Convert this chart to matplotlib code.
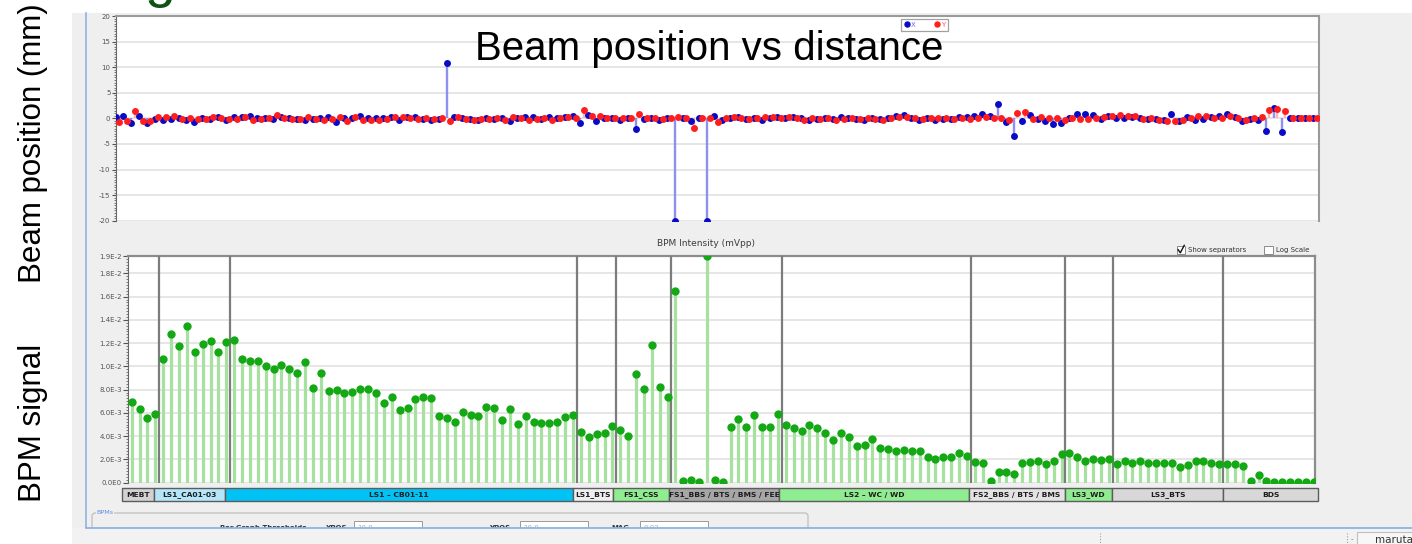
import numpy as np
import matplotlib
matplotlib.use("Agg")
import matplotlib.pyplot as plt
from matplotlib.patches import Rectangle, FancyBboxPatch
from matplotlib.lines import Line2D
from matplotlib.ticker import MultipleLocator, FixedLocator

# ---------------------------------------------------------------- data
# Beam position per BPM (mm); the first two readings sit before BPM 0
x_mm = [0.2, 0.5, -1.0, 0.5, -1.0, -0.1, -0.3, -0.1, 0.1, -0.4, -0.8, 0.0,
        -0.1, 0.3, -0.3, 0.3, 0.3, 0.4, 0.0, 0.0, -0.1, 0.3,
        0.0, -0.1, -0.4, -0.1, 0.0, 0.2, -0.8, 0.0, 0.0, 0.5,
        0.0, 0.0, 0.0, 0.2, -0.3, 0.3, 0.3, -0.1, -0.4, -0.2,
        10.9, 0.3, 0.0, -0.2, -0.4, 0.0, -0.2, 0.1, -0.5, 0.0,
        0.2, 0.2, -0.1, 0.2, 0.0, 0.3, 0.5, -0.9, 0.6, -0.5,
        0.0, 0.0, -0.3, 0.0, -2.1, -0.2, 0.0, -0.3, 0.1, -20.0,
        0.0, -0.6, 0.0, -20.0, 0.5, -0.3, 0.0, 0.2, -0.1, 0.0,
        -0.3, 0.0, 0.2, 0.0, 0.2, 0.0, -0.3, -0.1, 0.1, -0.2,
        0.2, 0.0, -0.1, -0.4, 0.0, -0.2, 0.1, 0.5, 0.6, 0.0,
        -0.4, 0.0, -0.4, -0.1, -0.1, 0.2, 0.3, 0.5, 0.8, 0.5,
        2.8, -0.8, -3.5, -0.6, 0.6, -0.1, -0.6, -1.1, -1.0, 0.0,
        0.8, 0.8, 0.6, -0.1, 0.5, 0.0, 0.0, 0.3, 0.0, -0.2,
        -0.2, -0.3, 0.8, -0.6, 0.3, -0.3, -0.2, 0.3, 0.5, 0.8,
        0.3, -0.5, -0.2, -0.3, -2.4, 2.1, -2.7, 0.0, 0.0, 0.0, 0.0]
y_mm = [-0.8, -0.5, 1.4, -0.5, -0.5, 0.3, 0.3, 0.5, -0.2, 0.0, -0.2, -0.2,
        0.2, 0.0, -0.2, -0.2, 0.3, -0.4, -0.2, 0.0, 0.7, 0.0,
        -0.2, -0.2, 0.3, -0.2, -0.3, -0.2, 0.2, -0.5, 0.2, -0.3,
        -0.3, -0.3, -0.2, 0.3, 0.2, 0.0, -0.2, 0.0, -0.1, 0.0,
        -0.6, 0.3, -0.2, -0.3, -0.2, -0.1, 0.1, -0.3, 0.2, 0.0,
        -0.3, -0.1, 0.0, -0.3, 0.0, 0.2, 0.0, 1.7, 0.4, 0.4,
        0.0, 0.0, 0.0, 0.0, 0.9, 0.0, 0.0, -0.2, 0.0, 0.2,
        0.0, -1.8, 0.0, 0.0, -0.8, 0.0, 0.3, 0.0, -0.2, 0.0,
        0.2, 0.2, 0.0, 0.2, 0.0, -0.3, 0.0, -0.2, 0.0, -0.3,
        -0.1, 0.0, -0.2, 0.0, -0.1, -0.3, 0.0, 0.2, 0.2, 0.0,
        -0.2, 0.0, 0.0, 0.0, -0.1, 0.0, -0.2, 0.1, 0.2, 0.0,
        0.1, -0.3, 1.0, 1.2, -0.1, 0.2, 0.0, 0.0, -0.3, 0.0,
        -0.2, -0.2, 0.0, 0.2, 0.4, 0.6, 0.4, 0.4, -0.1, 0.0,
        -0.3, -0.6, -0.5, -0.3, 0.0, 0.4, 0.5, 0.0, 0.0, 0.4,
        0.0, -0.3, 0.0, 0.2, 1.6, 1.8, 1.4, 0.0, 0.0, 0.0, 0.0]
pos_first_index = -2

# BPM intensity, in units of 1E-3 mVpp
intensity = [6.91, 6.36, 5.59, 5.93,
             10.66, 12.81, 11.73, 13.45, 11.21, 11.90, 12.21, 11.21, 12.07,
             12.27, 10.61, 10.44, 10.44, 10.01, 9.78, 10.12, 9.78, 9.41, 10.35,
             8.17, 9.41, 7.88, 8.00, 7.74, 7.82, 8.08, 8.08, 7.68, 6.85, 7.37,
             6.25, 6.39, 7.20, 7.39, 7.31, 5.74, 5.59, 5.25, 6.08, 5.79, 5.77,
             6.51, 6.39, 5.39, 6.34, 5.07, 5.76, 5.19, 5.10, 5.13, 5.19, 5.68,
             5.79,
             4.39, 3.93, 4.16, 4.27, 4.87,
             4.53, 3.99, 9.32, 8.06, 11.87, 8.23, 7.39,
             16.48, 0.15, 0.20, 0.09, 19.50, 0.20, 0.10, 4.76, 5.48, 4.76, 5.79,
             4.82, 4.79, 5.91,
             4.93, 4.70, 4.42, 4.96, 4.70, 4.30, 3.64, 4.25, 3.93, 3.16, 3.21,
             3.73, 2.98, 2.92, 2.72, 2.81, 2.72, 2.75, 2.21, 2.01, 2.18, 2.18,
             2.55, 2.27,
             1.78, 1.72, 0.12, 0.95, 0.95, 0.77, 1.69, 1.75, 1.89, 1.61, 1.84,
             2.47,
             2.55, 2.24, 1.87, 2.01, 1.93, 2.01,
             1.61, 1.89, 1.67, 1.84, 1.72, 1.67, 1.67, 1.72, 1.35, 1.52, 1.84,
             1.84, 1.69, 1.63,
             1.58, 1.58, 1.44, 0.15, 0.66, 0.12, 0.05, 0.05, 0.05, 0.05, 0.05,
             0.05]

sections = ["MEBT", "LS1_CA01-03", "LS1 \u2013 CB01-11", "LS1_BTS", "FS1_CSS",
            "FS1_BBS / BTS / BMS / FEE", "LS2 \u2013 WC / WD",
            "FS2_BBS / BTS / BMS", "LS3_WD", "LS3_BTS", "BDS"]
section_counts = [4, 9, 44, 5, 7, 14, 24, 12, 6, 14, 12]
section_colors = ["#d2d2d2", "#b4e6fa", "#00c2f4", "#efefef", "#90ec90",
                  "#a6a6a6", "#90ec90", "#e3e3e3", "#90ec90", "#d8d8d8",
                  "#d8d8d8"]

pos_ticks = [-20, -15, -10, -5, 0, 5, 10, 15, 20]
pos_tick_labels = ["-20", "-15", "-10", "-5", "0", "5", "10", "15", "20"]
int_top = 19.49
int_ticks = [0, 2, 4, 6, 8, 10, 12, 14, 16, 18, int_top]
int_tick_labels = ["0.0E0", "2.0E-3", "4.0E-3", "6.0E-3", "8.0E-3", "1.0E-2",
                   "1.2E-2", "1.4E-2", "1.6E-2", "1.8E-2", "1.9E-2"]

# ---------------------------------------------------------------- layout
W, H, DPI = 1412, 544, 100
BPM0_PX, BPM_STEP = 131.7, 7.88          # pixel of BPM 0 and pixel spacing
UI_FONT = "DejaVu Sans"
SLIDE_FONT = "Liberation Sans"


def rect(x0, y0, x1, y1):
    return [x0 / W, 1 - y1 / H, (x1 - x0) / W, (y1 - y0) / H]


def fpos(x, y):
    return (x / W, 1 - y / H)


def px_to_index(p):
    return (p - BPM0_PX) / BPM_STEP


fig = plt.figure(figsize=(W / DPI, H / DPI), dpi=DPI, facecolor="white")

# background canvas in pixel coordinates
bg = fig.add_axes([0, 0, 1, 1], zorder=-5)
bg.set_xlim(0, W)
bg.set_ylim(H, 0)
bg.axis("off")
bg.add_patch(Rectangle((72, 13), W - 72, H - 13, fc="#efefef", ec="none"))
bg.plot([86, 86], [13, 528], color="#8db4e3", lw=1.2)

# ---------------------------------------------------------------- position chart
ax_top = fig.add_axes(rect(116, 16, 1319, 220.7))
ax_top.set_facecolor("white")
idx_pos = np.arange(len(x_mm)) + pos_first_index
xb = idx_pos - 0.05
xr = idx_pos + 0.38
ax_top.vlines(xb, 0, x_mm, color="#8f8ff0", lw=1.7, zorder=2)
ax_top.vlines(xr, 0, y_mm, color="#ffb4b4", lw=1.7, zorder=2)
ax_top.plot(xb, x_mm, "o", color="#0a0ac6", ms=5.0, mec="none", zorder=3)
ax_top.plot(xr, y_mm, "o", color="#ff1e1e", ms=5.0, mec="none", zorder=4)
ax_top.set_xlim(px_to_index(116), px_to_index(1319))
ax_top.set_ylim(-20, 20)
ax_top.set_xticks([])
ax_top.yaxis.set_major_locator(FixedLocator(pos_ticks))
ax_top.set_yticklabels(pos_tick_labels)
ax_top.yaxis.set_minor_locator(MultipleLocator(0.5))
ax_top.tick_params(axis="y", which="major", length=3, width=0.8, pad=1,
                   labelsize=5, labelcolor="#555555", color="#555555")
ax_top.tick_params(axis="y", which="minor", length=1.5, width=0.6,
                   color="#666666")
ax_top.yaxis.grid(True, color="#e4e4e4", lw=1.3)
ax_top.set_axisbelow(True)
for s in ("top", "right"):
    ax_top.spines[s].set_color("#9a9a9a")
    ax_top.spines[s].set_linewidth(1.5)
ax_top.spines["left"].set_color("#666666")
ax_top.spines["left"].set_linewidth(0.8)
ax_top.spines["bottom"].set_visible(False)
for t in ax_top.get_yticklabels():
    t.set_fontfamily(UI_FONT)

handles = [Line2D([], [], marker="o", ls="none", color="#0a0ac6", ms=3.6,
                  label="X"),
           Line2D([], [], marker="o", ls="none", color="#ff1e1e", ms=3.6,
                  label="Y")]
leg = fig.legend(handles=handles, loc="upper left",
                 bbox_to_anchor=fpos(901, 19), ncol=2, fontsize=5,
                 frameon=True, fancybox=False, edgecolor="#8a8a8a",
                 borderpad=0.4, handletextpad=0.15, columnspacing=2.6,
                 handlelength=0.9, borderaxespad=0)
leg.get_frame().set_linewidth(0.9)
leg.get_texts()[0].set_color("#6a6af0")
leg.get_texts()[1].set_color("#ff5050")
leg.set_zorder(6)

# ---------------------------------------------------------------- intensity chart
ax_int = fig.add_axes(rect(128, 256, 1315, 482.7))
ax_int.set_facecolor("white")
idx = np.arange(len(intensity))
ax_int.vlines(idx, 0, intensity, color="#a7e1a0", lw=2.3, zorder=2)
ax_int.plot(idx, intensity, "o", color="#14a914", ms=6.0, mec="none", zorder=4)
cum = np.cumsum(section_counts)
for b in cum[:-1]:
    ax_int.axvline(b - 0.5, color="#7c7c7c", lw=1.6, zorder=3)
ax_int.set_xlim(px_to_index(128), px_to_index(1315))
ax_int.set_ylim(0, int_top)
ax_int.set_xticks([])
ax_int.yaxis.set_major_locator(FixedLocator(int_ticks))
ax_int.set_yticklabels(int_tick_labels)
ax_int.yaxis.set_minor_locator(MultipleLocator(0.25))
ax_int.tick_params(axis="y", which="major", length=3.5, width=0.8, pad=1,
                   labelsize=5, labelcolor="#555555", color="#555555")
ax_int.tick_params(axis="y", which="minor", length=1.5, width=0.6,
                   color="#666666")
ax_int.yaxis.grid(True, color="#e4e4e4", lw=1.3)
ax_int.set_axisbelow(True)
for s in ("top", "right"):
    ax_int.spines[s].set_color("#8c8c8c")
    ax_int.spines[s].set_linewidth(1.6)
ax_int.spines["left"].set_color("#666666")
ax_int.spines["left"].set_linewidth(0.8)
ax_int.spines["bottom"].set_visible(False)
for t in ax_int.get_yticklabels():
    t.set_fontfamily(UI_FONT)

# section bar
ax_bar = fig.add_axes(rect(122, 488, 1318, 501))
ax_bar.set_xlim(0, cum[-1])
ax_bar.set_ylim(0, 1)
ax_bar.axis("off")
starts = np.concatenate([[0], cum[:-1]])
for name, start, cnt, col in zip(sections, starts, section_counts,
                                 section_colors):
    ax_bar.barh(0.5, cnt, left=start, height=1, color=col,
                edgecolor="#5c5c5c", lw=1.0, clip_on=False)
    ax_bar.text(start + cnt / 2, 0.48, name, ha="center", va="center",
                fontsize=5.4, fontweight="bold", color="#1c1c1c",
                family=UI_FONT)

# ---------------------------------------------------------------- panel widgets
bg.text(706, 243, "BPM Intensity (mVpp)", ha="center", va="center",
        fontsize=6.5, color="#3c3c3c", family=UI_FONT)
bg.add_patch(Rectangle((1176.5, 245.5), 8.5, 8.5, fc="white", ec="#8a8a8a",
                       lw=0.7))
bg.plot([1178, 1180.3, 1184.3], [249.5, 252.8, 245.2], color="#111111",
        lw=1.0, solid_capstyle="round")
bg.text(1188.5, 250, "Show separators", ha="left", va="center", fontsize=5,
        color="#333333", family=UI_FONT)
bg.add_patch(Rectangle((1264, 245.5), 8.5, 8.5, fc="white", ec="#8a8a8a",
                       lw=0.7))
bg.text(1275.5, 250, "Log Scale", ha="left", va="center", fontsize=5,
        color="#333333", family=UI_FONT)

# BPMs group box (lower part is hidden below the panel edge)
bg.add_patch(FancyBboxPatch((92, 513), 716, 40,
                            boxstyle="round,pad=0,rounding_size=3",
                            fc="none", ec="#b8b8b8", lw=0.8))
bg.text(96, 513, "BPMs", ha="left", va="center", fontsize=4.6,
        color="#5f8fe8", family=UI_FONT,
        bbox=dict(fc="#efefef", ec="none", pad=0.3))
bg.text(220, 528, "Bar Graph Thresholds", ha="left", va="center",
        fontsize=5, fontweight="bold", color="#333333", family=UI_FONT)
for label, lx, fx0, fx1, val in [("XPOS", 326, 354, 422, "10.0"),
                                 ("YPOS", 489, 520, 588, "10.0"),
                                 ("MAG", 611, 640, 708, "0.02")]:
    bg.text(lx, 528, label, ha="left", va="center", fontsize=5,
            fontweight="bold", color="#333333", family=UI_FONT)
    bg.add_patch(Rectangle((fx0, 521), fx1 - fx0, 14, fc="white",
                           ec="#9a9a9a", lw=0.7))
    bg.text(fx0 + 3, 528.5, val, ha="left", va="center", fontsize=5,
            color="#aaaaaa", family=UI_FONT)
bg.add_patch(Rectangle((72, 528.4), W - 72, 20, fc="#f2f2f2", ec="none",
                       zorder=5))
bg.plot([86, W], [528, 528], color="#8db4e3", lw=1.3, zorder=6)
for xs in (1100, 1347):
    bg.plot([xs, xs], [533, 544], color="#a0a0a0", lw=0.8, ls=(0, (1, 1.5)),
            zorder=6)
bg.text(1352, 539, "-", ha="center", va="center", fontsize=5,
        color="#666666", zorder=6)
bg.add_patch(Rectangle((1357, 532), 80, 20, fc="#f7f7f7", ec="#c0c0c0",
                       lw=0.8, zorder=6))
bg.text(1375, 540, "maruta", ha="left", va="center", fontsize=7.5,
        color="#333333", family=UI_FONT, zorder=7)

# ---------------------------------------------------------------- slide text
fig.text(*fpos(709, 60), "Beam position vs distance", ha="center",
         va="baseline", fontsize=29, family=SLIDE_FONT, color="black",
         zorder=10)
fig.text(*fpos(41, 143), "Beam position (mm)", rotation=90,
         rotation_mode="anchor", ha="center", va="baseline", fontsize=22.5,
         family=SLIDE_FONT, color="black")
fig.text(*fpos(41, 423), "BPM signal", rotation=90, rotation_mode="anchor",
         ha="center", va="baseline", fontsize=22.5, family=SLIDE_FONT,
         color="black")
# descender of a slide heading that runs above the top edge
fig.text(*fpos(160, -4), "g", ha="center", va="baseline", fontsize=40,
         family=SLIDE_FONT, color="#0e5214")

fig.savefig("out.png", dpi=DPI, facecolor="white")
